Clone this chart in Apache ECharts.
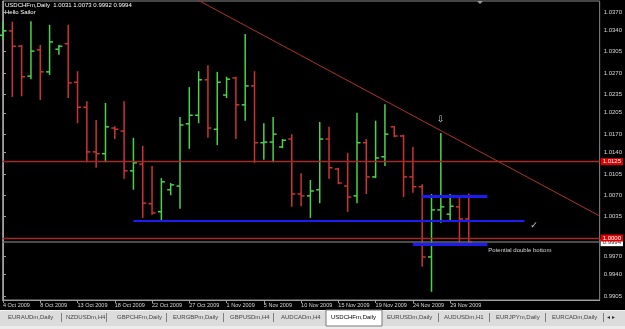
<!DOCTYPE html>
<html>
<head>
<meta charset="utf-8">
<title>USDCHFm,Daily</title>
<script src="https://cdn.jsdelivr.net/npm/echarts@6/dist/echarts.min.js"></script>
<style>
html, body { margin: 0; padding: 0; background: #000; }
#main { width: 625px; height: 329px; }
</style>
</head>
<body>
<div id="main"></div>
<script>
// one label every 4 daily bars (bar 0 = 4 Oct 2009)
var dateLabels = ['4 Oct 2009', '8 Oct 2009', '13 Oct 2009', '18 Oct 2009', '22 Oct 2009', '27 Oct 2009',
  '1 Nov 2009', '5 Nov 2009', '10 Nov 2009', '15 Nov 2009', '19 Nov 2009', '24 Nov 2009', '29 Nov 2009'];

var opens = [1.0332, 1.0339, 1.0314, 1.0265, 1.0308, 1.0272, 1.0309, 1.0318, 1.0255, 1.0214,
  1.0141, 1.0138, 1.0180, 1.0175, 1.0110, 1.0121, 1.0056, 1.0043, 1.0079, 1.0085,
  1.0187, 1.0201, 1.0259, 1.0178, 1.0234, 1.0262, 1.0218, 1.0249, 1.0156, 1.0157,
  1.0149, 1.0162, 1.0072, 1.0069, 1.0079, 1.0162, 1.0113, 1.0085, 1.0069, 1.0156,
  1.0100, 1.0133, 1.0182, 1.0167, 1.0100, 1.0084, 0.9969, 1.0046, 1.0039, 1.0051,
  1.0031];
var highs = [1.0354, 1.0354, 1.0316, 1.0355, 1.0316, 1.0349, 1.0316, 1.0349, 1.0273, 1.0224,
  1.0193, 1.0221, 1.0183, 1.0224, 1.0164, 1.0151, 1.0118, 1.0098, 1.0090, 1.0198,
  1.0247, 1.0273, 1.0283, 1.0272, 1.0264, 1.0264, 1.0334, 1.0273, 1.0188, 1.0198,
  1.0162, 1.0170, 1.0106, 1.0095, 1.0190, 1.0182, 1.0115, 1.0139, 1.0205, 1.0162,
  1.0192, 1.0219, 1.0183, 1.0169, 1.0149, 1.0088, 1.0072, 1.0172, 1.0072, 1.0067,
  1.0073];
var lows = [1.0324, 1.0231, 1.0232, 1.0260, 1.0226, 1.0267, 1.0300, 1.0229, 1.0188, 1.0124,
  1.0115, 1.0124, 1.0162, 1.0097, 1.0079, 1.0033, 1.0038, 1.0028, 1.0070, 1.0048,
  1.0146, 1.0188, 1.0164, 1.0152, 1.0229, 1.0162, 1.0192, 1.0123, 1.0128, 1.0124,
  1.0147, 1.0051, 1.0052, 1.0033, 1.0057, 1.0097, 1.0088, 1.0043, 1.0057, 1.0072,
  1.0098, 1.0118, 1.0165, 1.0067, 1.0074, 0.9953, 0.9912, 1.0025, 1.0026, 0.9992,
  0.9992];
var closes = [1.0339, 1.0314, 1.0264, 1.0306, 1.0272, 1.0321, 1.0314, 1.0254, 1.0214, 1.0141,
  1.0138, 1.0182, 1.0178, 1.0110, 1.0123, 1.0057, 1.0041, 1.0092, 1.0087, 1.0185,
  1.0201, 1.0259, 1.0180, 1.0255, 1.0260, 1.0218, 1.0249, 1.0156, 1.0157, 1.0170,
  1.0160, 1.0072, 1.0069, 1.0077, 1.0162, 1.0115, 1.0090, 1.0067, 1.0156, 1.0100,
  1.0131, 1.0170, 1.0167, 1.0100, 1.0084, 0.9969, 1.0046, 1.0051, 1.0052, 1.0031,
  0.9994];

var priceTicks = [1.0370, 1.0340, 1.0305, 1.0270, 1.0235, 1.0205, 1.0170, 1.0140, 1.0105,
  1.0070, 1.0035, 0.9970, 0.9940, 0.9905];

// drawn objects, in bar index / price
var trendLine = [[20, 1.0397], [64, 1.00365]];
var redLevels = [1.0125, 1.0000];
var bidPrice = 0.9994;
var blueLines = [[14, 56, 1.0028], [45, 52, 1.0069], [44, 52, 0.9990]];
var notes = [
  { text: 'Potential double bottom', bar: 52.1, price: 0.9980 },
  { text: '✓', bar: 57.0, price: 1.0020 },
  { text: '⇩', bar: 47.0, price: 1.0193 }
];

var tabs = ['EURAUDm,Daily', 'NZDUSDm,H4', 'GBPCHFm,Daily', 'EURGBPm,Daily', 'GBPUSDm,H4', 'AUDCADm,H4',
  'USDCHFm,Daily', 'EURUSDm,Daily', 'AUDUSDm,H1', 'EURJPYm,Daily', 'EURCADm,Daily'];
var tabX = [8, 66, 117, 173, 230, 281, 331, 387, 444, 496, 552];
var sepX = [61, 106, 166, 223, 273, 438, 489, 545, 603];

var bars = [];
for (var i = 0; i < opens.length; i++) {
  bars.push([i, opens[i], highs[i], lows[i], closes[i]]);
}

var up = '#4cd24c', down = '#cc3434';

function renderBar(params, api) {
  var x = api.value(0);
  var o = api.coord([x, api.value(1)]);
  var h = api.coord([x, api.value(2)]);
  var l = api.coord([x, api.value(3)]);
  var c = api.coord([x, api.value(4)]);
  var color = api.value(4) >= api.value(1) ? up : down;
  var st = { stroke: color, lineWidth: 1.5 };
  return {
    type: 'group',
    children: [
      { type: 'line', shape: { x1: h[0], y1: h[1], x2: l[0], y2: l[1] }, style: st },
      { type: 'line', shape: { x1: o[0] - 3.5, y1: o[1], x2: o[0], y2: o[1] }, style: st },
      { type: 'line', shape: { x1: c[0], y1: c[1], x2: c[0] + 3.5, y2: c[1] }, style: st }
    ]
  };
}

// bid line first so the red tags sit on top of its tag
var markData = [];
markData.push({
  yAxis: bidPrice,
  lineStyle: { color: '#666666', width: 1.5, type: 'solid' },
  label: { show: true, position: 'end', distance: 1, offset: [0, 1], formatter: bidPrice.toFixed(4),
    color: '#333', backgroundColor: '#ffffff', padding: [1, 2, 0, 2], fontSize: 6 }
});
redLevels.forEach(function (p) {
  markData.push({
    yAxis: p,
    lineStyle: { color: '#a52a2a', width: 1.3, type: 'solid' },
    label: { show: true, position: 'end', distance: 1, formatter: p.toFixed(4),
      color: '#fff', backgroundColor: '#e00000', padding: [1, 2, 0, 2], fontSize: 6 }
  });
});
blueLines.forEach(function (b, k) {
  markData.push([
    { coord: [b[0], b[2]], lineStyle: { color: '#1c1cf2', width: k == 0 ? 2 : 3, type: 'solid' } },
    { coord: [b[1], b[2]] }
  ]);
});

var chart = echarts.init(document.getElementById('main'));

var graphics = [
  { type: 'rect', shape: { x: 0, y: 310, width: 625, height: 19 }, style: { fill: '#dcdcdc' } },
  { type: 'rect', shape: { x: 0, y: 310, width: 625, height: 1 }, style: { fill: '#f2f2f2' } },
  { type: 'rect', shape: { x: 0, y: 326, width: 625, height: 3 }, style: { fill: '#ececec' } },
  { type: 'rect', shape: { x: 326, y: 310, width: 56, height: 16 }, style: { fill: '#ffffff', stroke: '#7a7a7a', lineWidth: 1 } },
  { type: 'text', x: 5, y: 2, style: { text: 'USDCHFm,Daily  1.0031 1.0073 0.9992 0.9994', fill: '#ffffff', font: '6px "Liberation Sans"' } },
  { type: 'text', x: 5, y: 9, style: { text: 'Hello Sailor', fill: '#ffffff', font: '6px "Liberation Sans"' } },
  { type: 'polygon', shape: { points: [[477, 1], [483, 1], [480, 4]] }, style: { fill: '#9a9a9a' } },
  { type: 'text', x: 607, y: 314, style: { text: '◂ ▸', fill: '#333', font: '6px "DejaVu Sans"' } }
];
tabs.forEach(function (t, k) {
  graphics.push({ type: 'text', x: tabX[k], y: 314,
    style: { text: t, fill: t == 'USDCHFm,Daily' ? '#000' : '#444', font: '6px "Liberation Sans"' } });
});
sepX.forEach(function (x) {
  graphics.push({ type: 'rect', shape: { x: x, y: 313, width: 1, height: 9 }, style: { fill: '#808080' } });
});

var option = {
  backgroundColor: '#000',
  animation: false,
  grid: {
    left: 2, right: 25, top: 1, bottom: 29,
    show: true, backgroundColor: '#000', borderColor: '#8a8a8a', borderWidth: 1
  },
  xAxis: {
    type: 'value',
    min: -0.05,
    max: 64.05,
    splitLine: { show: false },
    axisLine: { lineStyle: { color: '#a0a0a0' } },
    axisTick: { customValues: [0, 4, 8, 12, 16, 20, 24, 28, 32, 36, 40, 44, 48], length: 3, lineStyle: { color: '#a0a0a0' } },
    axisLabel: {
      customValues: [0, 4, 8, 12, 16, 20, 24, 28, 32, 36, 40, 44, 48],
      formatter: function (v) { return dateLabels[Math.round(v / 4)]; },
      align: 'left', margin: 2, color: '#d8d8d8', fontSize: 5.5, fontFamily: 'Liberation Sans'
    }
  },
  yAxis: {
    type: 'value',
    position: 'right',
    min: 0.98985,
    max: 1.0388,
    splitLine: { show: false },
    axisLine: { show: true, lineStyle: { color: '#a0a0a0' } },
    axisTick: { show: true, customValues: priceTicks, length: 3, lineStyle: { color: '#a0a0a0' } },
    axisLabel: {
      customValues: priceTicks,
      formatter: function (v) { return v.toFixed(4); },
      margin: 4, color: '#d8d8d8', fontSize: 6, fontFamily: 'Liberation Sans'
    }
  },
  graphic: graphics,
  series: [
    {
      type: 'line',
      data: trendLine,
      symbol: 'none',
      lineStyle: { color: '#b03030', width: 1 },
      silent: true,
      markLine: { silent: true, precision: 4, symbol: ['none', 'none'], label: { show: false }, data: markData }
    },
    {
      type: 'custom',
      renderItem: renderBar,
      encode: { x: 0, y: [1, 2, 3, 4] },
      data: bars
    },
    {
      type: 'scatter',
      symbolSize: 0,
      silent: true,
      data: notes.map(function (n) {
        var centred = n.text.length == 1;
        return {
          name: n.text,
          value: [n.bar, n.price],
          label: {
            show: true, formatter: '{b}', color: '#ffffff',
            position: centred ? 'inside' : 'right', distance: 0,
            fontSize: centred ? 9 : 6,
            fontFamily: centred ? 'DejaVu Sans' : 'Liberation Sans'
          }
        };
      })
    }
  ]
};

chart.setOption(option);
</script>
</body>
</html>
